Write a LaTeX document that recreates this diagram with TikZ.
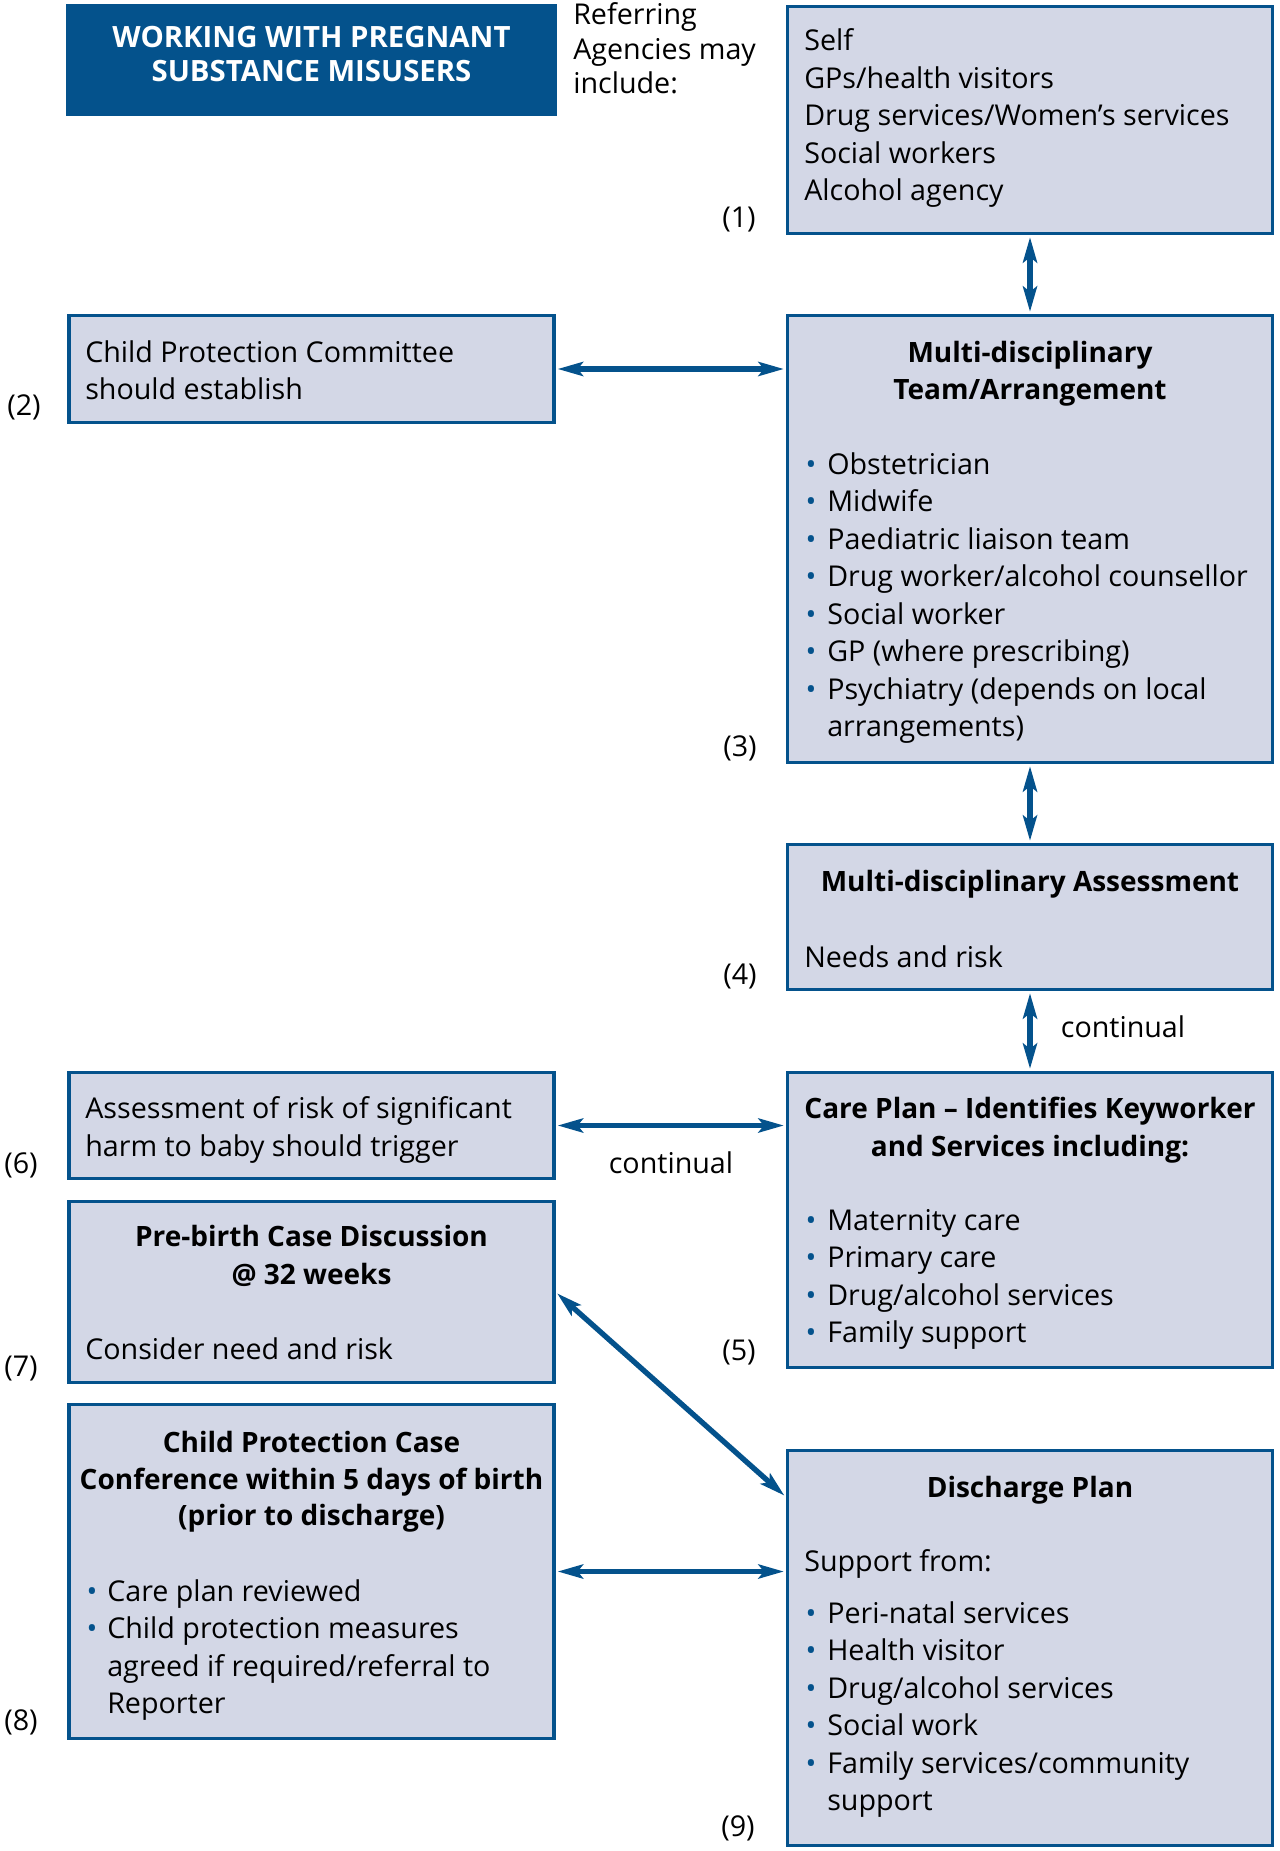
\documentclass[tikz,border=0pt]{standalone}
\usepackage{fontspec}
\setmainfont{Open Sans}
\usetikzlibrary{arrows.meta,calc}
\definecolor{navy}{HTML}{04528C}
\definecolor{boxfill}{HTML}{D3D7E6}
\newcommand\fs{\fontsize{21.5pt}{25pt}\selectfont}
\newcommand\fb{\fontsize{21pt}{25pt}\selectfont\bfseries}
\begin{document}
\begin{tikzpicture}[x=0.75pt,y=-0.75pt,
  box/.style={draw=navy, fill=boxfill, line width=2.4pt, inner sep=0pt},
  txt/.style={anchor=base west, inner sep=0pt, font=\fs},
  ttl/.style={anchor=base, inner sep=0pt, font=\fb},
  num/.style={anchor=base, inner sep=0pt, font=\fs},
  dot/.style={anchor=base, inner sep=0pt, font=\fs, text=navy},
  arr/.style={draw=navy, line width=4pt,
    {Stealth[length=19pt,width=10.5pt,inset=4pt]}-{Stealth[length=19pt,width=10.5pt,inset=4pt]},
    shorten >=1.5pt, shorten <=1.5pt}]
\useasboundingbox (0,0) rectangle (1279,1851);

% title
\node[fill=navy, inner sep=0pt, minimum width=368pt, minimum height=84pt] (title) at (311.5,60) {};
\node[anchor=base, inner sep=0pt, font=\fontsize{22pt}{26pt}\selectfont\bfseries, text=white] (title1) at (311.5,48) {WORKING WITH PREGNANT};
\node[anchor=base, inner sep=0pt, font=\fontsize{22pt}{26pt}\selectfont\bfseries, text=white] (title2) at (311.5,82) {SUBSTANCE MISUSERS};

\node[txt] (ref1) at (573,25) {Referring};
\node[txt] (ref2) at (573,59.5) {Agencies may};
\node[txt] (ref3) at (573,94) {include:};

% boxes
\node[box, minimum width=363.75pt, minimum height=170.25pt] (b1) at (1030,120) {};
\node[box, minimum width=363.75pt, minimum height=80.25pt] (b2) at (311.5,369) {};
\node[box, minimum width=363.75pt, minimum height=335.25pt] (b3) at (1030,539) {};
\node[box, minimum width=363.75pt, minimum height=108.75pt] (b4) at (1030,917) {};
\node[box, minimum width=363.75pt, minimum height=221.25pt] (b5) at (1030,1220) {};
\node[box, minimum width=363.75pt, minimum height=79.5pt] (b6) at (311.5,1125.5) {};
\node[box, minimum width=363.75pt, minimum height=135.75pt] (b7) at (311.5,1292) {};
\node[box, minimum width=363.75pt, minimum height=250.5pt] (b8) at (311.5,1571.5) {};
\node[box, minimum width=363.75pt, minimum height=296.25pt] (b9) at (1030,1648) {};

% box 1
\foreach \t [count=\i] in {Self, GPs/health visitors, Drug services/Women’s services, Social workers, Alcohol agency}
  \node[txt] (b1t\i) at (804,{51+37.5*(\i-1)}) {\t};
\node[num] (n1) at (739,228) {(1)};

% box 2
\node[txt] (b2t1) at (85,362) {Child Protection Committee};
\node[txt] (b2t2) at (85,399) {should establish};
\node[num] (n2) at (24,415) {(2)};

% box 3
\node[ttl] (b3h1) at (1030,362) {Multi-disciplinary};
\node[ttl] (b3h2) at (1030,399) {Team/Arrangement};
\foreach \t [count=\i] in {Obstetrician, Midwife, Paediatric liaison team, Drug worker/alcohol counsellor, Social worker, GP (where prescribing), Psychiatry (depends on local}{
  \node[dot] (b3d\i) at (811,{474+37.5*(\i-1)}) {•};
  \node[txt] (b3t\i) at (827,{474+37.5*(\i-1)}) {\t};
}
\node[txt] (b3t8) at (827,736.5) {arrangements)};
\node[num] (n3) at (740,756) {(3)};

% box 4
\node[ttl] (b4h) at (1030,891) {Multi-disciplinary Assessment};
\node[txt] (b4t) at (804,967) {Needs and risk};
\node[num] (n4) at (740,984) {(4)};
\node[num] (cont1) at (1123,1037) {continual};

% box 5
\node[ttl] (b5h1) at (1030,1118) {Care Plan – Identifies Keyworker};
\node[ttl] (b5h2) at (1030,1156) {and Services including:};
\foreach \t [count=\i] in {Maternity care, Primary care, Drug/alcohol services, Family support}{
  \node[dot] (b5d\i) at (811,{1230+37.5*(\i-1)}) {•};
  \node[txt] (b5t\i) at (827,{1230+37.5*(\i-1)}) {\t};
}
\node[num] (n5) at (739,1360) {(5)};

% box 6
\node[txt] (b6t1) at (85,1118) {Assessment of risk of significant};
\node[txt] (b6t2) at (85,1156) {harm to baby should trigger};
\node[num] (n6) at (21,1173) {(6)};
\node[num] (cont2) at (671,1173) {continual};

% box 7
\node[ttl] (b7h1) at (311.5,1246) {Pre-birth Case Discussion};
\node[ttl] (b7h2) at (311.5,1284) {@ 32 weeks};
\node[txt] (b7t) at (85,1359) {Consider need and risk};
\node[num] (n7) at (21,1376) {(7)};

% box 8
\node[ttl] (b8h1) at (311.5,1452) {Child Protection Case};
\node[ttl] (b8h2) at (311.5,1489) {Conference within 5 days of birth};
\node[ttl] (b8h3) at (311.5,1525) {(prior to discharge)};
\node[dot] (b8d1) at (92,1601) {•};
\node[txt] (b8t1) at (107,1601) {Care plan reviewed};
\node[dot] (b8d2) at (92,1638.5) {•};
\node[txt] (b8t2) at (107,1638.5) {Child protection measures};
\node[txt] (b8t3) at (107,1676) {agreed if required/referral to};
\node[txt] (b8t4) at (107,1713.5) {Reporter};
\node[num] (n8) at (21,1730) {(8)};

% box 9
\node[ttl] (b9h) at (1030,1497) {Discharge Plan};
\node[txt] (b9s) at (804,1571) {Support from:};
\foreach \t [count=\i] in {Peri-natal services, Health visitor, Drug/alcohol services, Social work, Family services/community}{
  \node[dot] (b9d\i) at (811,{1623+37.5*(\i-1)}) {•};
  \node[txt] (b9t\i) at (827,{1623+37.5*(\i-1)}) {\t};
}
\node[txt] (b9t6) at (827,1810.5) {support};
\node[num] (n9) at (738,1836) {(9)};

% arrows
\draw[arr] (b1.south) -- (b3.north);
\draw[arr] (b2.east) -- (b2.east -| b3.west);
\draw[arr] (b3.south) -- (b4.north);
\draw[arr] (b4.south) -- (b5.north);
\draw[arr] (b6.east) -- (b6.east -| b5.west);
\coordinate (b9in) at ($(b9.north west)+(0,48)$);
\draw[arr] (b7.east) -- (b9in);
\draw[arr] (b8.east) -- (b8.east -| b9.west);
\end{tikzpicture}
\end{document}
